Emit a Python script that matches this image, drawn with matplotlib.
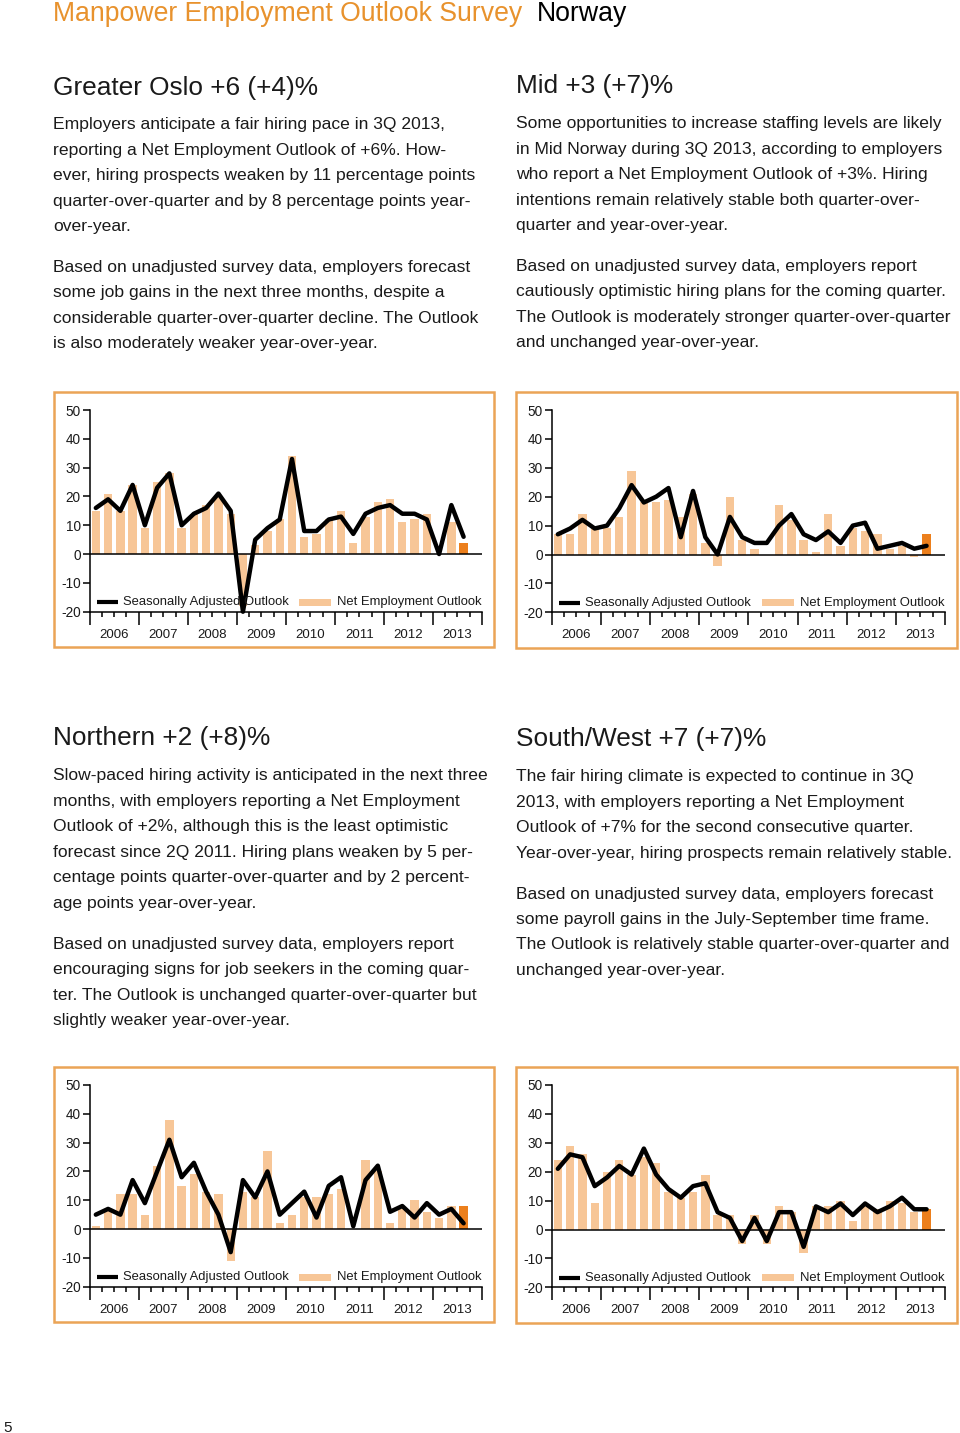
import numpy as np
import matplotlib
matplotlib.use("Agg")
import matplotlib.pyplot as plt
import matplotlib.transforms as mtransforms
from matplotlib.patches import Rectangle

# page size in pixels
W, H = 960, 1433

ORANGE = '#E8922D'
LIGHT = '#F7C697'
DARK = '#EC7F1C'
BORDER = '#EBA456'
TEXT = '#1a1a1a'

years = ['2006', '2007', '2008', '2009', '2010', '2011', '2012', '2013']

# quarterly values, 1Q 2006 .. 3Q 2013
oslo_sa = [16, 19, 15, 24, 10, 23, 28, 10, 14, 16, 21, 15, -20, 5, 9, 12,
           33, 8, 8, 12, 13, 7, 14, 16, 17, 14, 14, 12, 0, 17, 6]
oslo_neo = [15, 21, 15, 24, 9, 25, 28, 9, 14, 17, 20, 14, -18, 3, 8, 12,
            34, 6, 7, 12, 15, 4, 13, 18, 19, 11, 12, 14, 0, 11, 4]

mid_sa = [7, 9, 12, 9, 10, 16, 24, 18, 20, 23, 6, 22, 6, 0, 13, 6,
          4, 4, 10, 14, 7, 5, 8, 4, 10, 11, 2, 3, 4, 2, 3]
mid_neo = [7, 7, 14, 9, 9, 13, 29, 18, 18, 19, 13, 21, 4, -4, 20, 5,
           2, 0, 17, 12, 5, 1, 14, 3, 9, 8, 7, 2, 3, -1, 7]

north_sa = [5, 7, 5, 17, 9, 20, 31, 18, 23, 13, 5, -8, 17, 11, 20, 5,
            9, 13, 4, 15, 18, 1, 17, 22, 6, 8, 4, 9, 5, 7, 2]
north_neo = [1, 7, 12, 12, 5, 22, 38, 15, 19, 13, 12, -11, 13, 11, 27, 2,
             5, 11, 11, 12, 14, 0, 24, 20, 2, 7, 10, 6, 4, 8, 8]

sw_sa = [21, 26, 25, 15, 18, 22, 19, 28, 19, 14, 11, 15, 16, 6, 4, -4,
         4, -4, 6, 6, -6, 8, 6, 9, 5, 9, 6, 8, 11, 7, 7]
sw_neo = [24, 29, 26, 9, 20, 24, 19, 25, 23, 13, 11, 13, 19, 5, 5, -5,
          5, -5, 8, 6, -8, 8, 8, 10, 3, 8, 7, 10, 9, 6, 7]

oslo_text = [
    "Employers anticipate a fair hiring pace in 3Q 2013,",
    "reporting a Net Employment Outlook of +6%. How-",
    "ever, hiring prospects weaken by 11 percentage points",
    "quarter-over-quarter and by 8 percentage points year-",
    "over-year.",
    "Based on unadjusted survey data, employers forecast",
    "some job gains in the next three months, despite a",
    "considerable quarter-over-quarter decline. The Outlook",
    "is also moderately weaker year-over-year.",
]
mid_text = [
    "Some opportunities to increase staffing levels are likely",
    "in Mid Norway during 3Q 2013, according to employers",
    "who report a Net Employment Outlook of +3%. Hiring",
    "intentions remain relatively stable both quarter-over-",
    "quarter and year-over-year.",
    "Based on unadjusted survey data, employers report",
    "cautiously optimistic hiring plans for the coming quarter.",
    "The Outlook is moderately stronger quarter-over-quarter",
    "and unchanged year-over-year.",
]
north_text = [
    "Slow-paced hiring activity is anticipated in the next three",
    "months, with employers reporting a Net Employment",
    "Outlook of +2%, although this is the least optimistic",
    "forecast since 2Q 2011. Hiring plans weaken by 5 per-",
    "centage points quarter-over-quarter and by 2 percent-",
    "age points year-over-year.",
    "Based on unadjusted survey data, employers report",
    "encouraging signs for job seekers in the coming quar-",
    "ter. The Outlook is unchanged quarter-over-quarter but",
    "slightly weaker year-over-year.",
]
sw_text = [
    "The fair hiring climate is expected to continue in 3Q",
    "2013, with employers reporting a Net Employment",
    "Outlook of +7% for the second consecutive quarter.",
    "Year-over-year, hiring prospects remain relatively stable.",
    "Based on unadjusted survey data, employers forecast",
    "some payroll gains in the July-September time frame.",
    "The Outlook is relatively stable quarter-over-quarter and",
    "unchanged year-over-year.",
]

plt.rcParams['font.family'] = ['Liberation Sans', 'DejaVu Sans']
plt.rcParams['axes.unicode_minus'] = False

fig = plt.figure(figsize=(W / 100, H / 100), dpi=100)


def fx(x):
    return x / W


def fy(y):
    return 1 - y / H


def put(x, y, s, size, color=TEXT):
    fig.text(fx(x), fy(y), s, fontsize=size, color=color, ha='left', va='baseline')


def draw_chart(box, axpos, sa, neo):
    bx0, by0, bx1, by1 = box
    fig.patches.append(Rectangle((fx(bx0), fy(by1)), (bx1 - bx0) / W, (by1 - by0) / H,
                                 transform=fig.transFigure, fill=False,
                                 edgecolor=BORDER, linewidth=1.8))
    x0, ytop, x1, ybot = axpos
    ax = fig.add_axes([fx(x0), fy(ybot), (x1 - x0) / W, (ybot - ytop) / H])
    ax.patch.set_alpha(0)
    xs = np.arange(len(sa)) + 0.5
    colors = [LIGHT] * (len(neo) - 1) + [DARK]
    ax.bar(xs, neo, width=0.68, color=colors, zorder=1)
    ax.axhline(0, color='black', lw=1.1, zorder=2)
    ax.plot(xs, sa, color='black', lw=3.2, solid_joinstyle='round',
            solid_capstyle='round', zorder=3, clip_on=False)
    ax.set_xlim(0, 32)
    ax.set_ylim(-20, 50)
    for side in ['top', 'right']:
        ax.spines[side].set_visible(False)
    for side in ['left', 'bottom']:
        ax.spines[side].set_linewidth(1.1)
    ax.set_yticks(range(-20, 51, 10))
    ax.set_xticks(range(0, 33, 4))
    ax.set_xticklabels([])
    ax.set_xticks(range(0, 33), minor=True)
    ax.tick_params(axis='x', which='major', length=9.5, width=1.1)
    ax.tick_params(axis='x', which='minor', length=3.4, width=1.1)
    ax.tick_params(axis='y', length=5, width=1.1, labelsize=9.8, pad=1.5,
                   labelcolor=TEXT)
    trans = mtransforms.blended_transform_factory(ax.transData, ax.transAxes)
    for k, yr in enumerate(years):
        ax.text(4 * k + 2, -0.114, yr, transform=trans, ha='center', va='center',
                fontsize=9.5, color=TEXT)
    # legend drawn inside the plot area
    ax.plot([0.6, 2.3], [-16.7, -16.7], color='black', lw=3, solid_capstyle='butt')
    ax.text(2.75, -16.7, 'Seasonally Adjusted Outlook', va='center', fontsize=9.4,
            color=TEXT)
    ax.add_patch(Rectangle((17.1, -17.9), 2.6, 2.4, color=LIGHT, lw=0))
    ax.text(20.2, -16.7, 'Net Employment Outlook', va='center', fontsize=9.4,
            color=TEXT)
    return ax


def draw_section(x, head_y, heading, lines, line_ys):
    put(x, head_y + 9.5, heading, 18.9)
    for s, y in zip(lines, line_ys):
        put(x, y + 6, s, 12.6)


# page header
put(53, 21, 'Manpower Employment Outlook Survey', 19.2, ORANGE)
put(537, 21, 'Norway', 19.2, 'black')

draw_section(53, 85, 'Greater Oslo +6 (+4)%', oslo_text,
             [123, 149, 174, 200, 225, 266, 291, 317, 342])
draw_section(516, 84, 'Mid +3 (+7)%', mid_text,
             [122, 148, 173, 199, 224, 265, 290, 316, 341])
draw_section(53, 736, 'Northern +2 (+8)%', north_text,
             [774, 800, 825, 851, 876, 902, 943, 968, 994, 1019])
draw_section(516, 737, 'South/West +7 (+7)%', sw_text,
             [775, 801, 826, 852, 893, 918, 943, 969])

draw_chart((54, 392, 494, 647), (89.7, 410, 482, 611.7), oslo_sa, oslo_neo)
draw_chart((516, 392, 957, 648), (551.7, 410, 945, 612.3), mid_sa, mid_neo)
draw_chart((54, 1067, 494, 1322), (89.7, 1085, 482, 1286.7), north_sa, north_neo)
draw_chart((516, 1067, 957, 1323), (551.7, 1085, 945, 1287.3), sw_sa, sw_neo)

put(3, 1432, '5', 11)

fig.savefig('out.png', dpi=100, facecolor='white')
